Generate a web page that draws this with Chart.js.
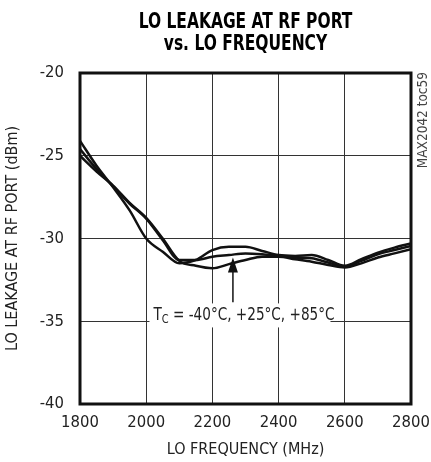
<!DOCTYPE html>
<html>
<head>
<meta charset="UTF-8">
<title>LO Leakage at RF Port vs. LO Frequency</title>
<script src="https://cdn.jsdelivr.net/npm/chart.js@4.4.0/dist/chart.umd.min.js"></script>
<style>
  body { margin:0; padding:0; background:#fff; }
  #wrap { width:431px; height:462px; }
</style>
</head>
<body>
<div id="wrap"><canvas id="c" width="431" height="462"></canvas></div>
<script>
// LO frequency (MHz)
const freq = [1800,1850,1900,1950,2000,2050,2100,2150,2200,2250,2300,2350,2400,2450,2500,2550,2600,2650,2700,2750,2800];
// LO leakage (dBm), three temperatures
const leakA = [-24.1,-25.6,-26.9,-28.3,-30.0,-30.8,-31.5,-31.3,-30.7,-30.5,-30.5,-30.75,-31.0,-31.05,-31.0,-31.3,-31.65,-31.25,-30.85,-30.55,-30.3];
const leakB = [-24.6,-25.8,-26.85,-27.9,-28.8,-30.1,-31.3,-31.3,-31.1,-31.0,-30.9,-30.95,-31.05,-31.15,-31.2,-31.45,-31.7,-31.35,-30.95,-30.7,-30.45];
const leakC = [-25.0,-25.95,-26.8,-27.85,-28.75,-30.0,-31.35,-31.65,-31.8,-31.55,-31.3,-31.1,-31.1,-31.25,-31.4,-31.6,-31.75,-31.5,-31.15,-30.9,-30.65];
const yTicks = [-40,-35,-30,-25,-20];

const FONT = '"Liberation Sans Narrow", "DejaVu Sans Condensed", "Arial Narrow", sans-serif';

const toPts = arr => freq.map((f, i) => ({ x: f, y: arr[i] }));
const lineStyle = { borderColor:'#111', borderWidth:2.5, pointRadius:0, tension:0.4, cubicInterpolationMode:'monotone', fill:false };

// frame, title, annotation, watermark
const extras = {
  id: 'extras',
  afterDatasetsDraw(chart) {
    const { ctx, chartArea: a, scales: { x, y } } = chart;
    ctx.save();
    // annotation box + text (narrowed to match the condensed face)
    const tx = x.getPixelForValue(2022), ty = y.getPixelForValue(-34.95);
    ctx.fillStyle = '#fff';
    ctx.fillRect(tx - 4, ty - 17, 181, 24);
    ctx.save();
    ctx.translate(tx, ty);
    ctx.scale(0.84, 1);
    ctx.fillStyle = '#222';
    ctx.textBaseline = 'alphabetic';
    ctx.textAlign = 'left';
    ctx.font = '18px ' + FONT;
    ctx.fillText('T', 0, 0);
    let w = ctx.measureText('T').width;
    ctx.font = '13px ' + FONT;
    ctx.fillText('C', w, 3);
    w += ctx.measureText('C').width;
    ctx.font = '18px ' + FONT;
    ctx.fillText(' = -40°C, +25°C, +85°C', w, 0);
    ctx.restore();
    // arrow
    const ax = x.getPixelForValue(2262);
    const ay0 = y.getPixelForValue(-33.85), tip = y.getPixelForValue(-31.15);
    ctx.strokeStyle = '#111';
    ctx.lineWidth = 1.5;
    ctx.beginPath(); ctx.moveTo(ax, ay0); ctx.lineTo(ax, tip + 12); ctx.stroke();
    ctx.fillStyle = '#111';
    ctx.beginPath(); ctx.moveTo(ax, tip); ctx.lineTo(ax - 5, tip + 15); ctx.lineTo(ax + 5, tip + 15); ctx.closePath(); ctx.fill();
    // frame
    ctx.strokeStyle = '#111';
    ctx.lineWidth = 3;
    ctx.strokeRect(a.left, a.top, a.right - a.left, a.bottom - a.top);
    // title
    const cx = (a.left + a.right) / 2;
    ctx.save();
    ctx.translate(cx, 0);
    ctx.scale(0.82, 1);
    ctx.fillStyle = '#000';
    ctx.textAlign = 'center';
    ctx.font = 'bold 21px ' + FONT;
    ctx.fillText('LO LEAKAGE AT RF PORT', 0, 28);
    ctx.fillText('vs. LO FREQUENCY', 0, 50);
    ctx.restore();
    // watermark
    ctx.translate(a.right + 12, a.top - 1);
    ctx.rotate(-Math.PI / 2);
    ctx.textAlign = 'right';
    ctx.textBaseline = 'middle';
    ctx.font = '13.5px ' + FONT;
    ctx.fillStyle = '#444';
    ctx.fillText('MAX2042 toc59', 0, 0);
    ctx.restore();
  }
};

new Chart(document.getElementById('c'), {
  type: 'line',
  data: {
    datasets: [
      { label: 'A', data: toPts(leakA), ...lineStyle },
      { label: 'B', data: toPts(leakB), ...lineStyle },
      { label: 'C', data: toPts(leakC), ...lineStyle }
    ]
  },
  options: {
    responsive: false,
    animation: false,
    layout: { padding: { top: 73, right: 20, bottom: 0, left: 0 } },
    plugins: { legend: { display: false }, tooltip: { enabled: false } },
    scales: {
      x: {
        type: 'linear', min: 1800, max: 2800,
        ticks: { stepSize: 200, color: '#222', font: { family: FONT, size: 16.5 }, padding: 9, callback: v => String(v) },
        grid: { color: '#333', lineWidth: 1, drawTicks: false },
        border: { display: false },
        title: { display: true, text: 'LO FREQUENCY (MHz)', color: '#222', font: { family: FONT, size: 16 }, padding: { top: 0, bottom: 3 } },
        afterFit(s) { s.height = 58; s.paddingLeft = 0; s.paddingRight = 0; }
      },
      y: {
        min: -40, max: -20,
        afterBuildTicks(s) { s.ticks = yTicks.map(v => ({ value: v })); },
        ticks: { color: '#222', font: { family: FONT, size: 16.5 }, padding: 16 },
        grid: { color: '#333', lineWidth: 1, drawTicks: false },
        border: { display: false },
        title: { display: true, text: 'LO LEAKAGE AT RF PORT (dBm)', color: '#222', font: { family: FONT, size: 16 }, padding: { top: 3, bottom: 0 } },
        afterFit(s) { s.width = 80; }
      }
    }
  },
  plugins: [extras]
});
</script>
</body>
</html>
